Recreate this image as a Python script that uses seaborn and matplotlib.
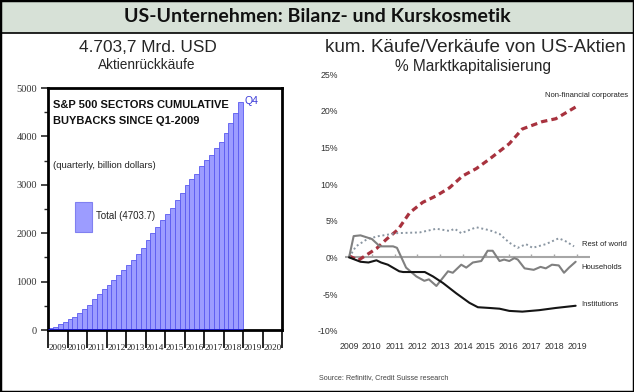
import matplotlib.pyplot as plt
import matplotlib.ticker as mticker
import numpy as np
import pandas as pd
import seaborn as sns
from matplotlib.lines import Line2D
from matplotlib.patches import Rectangle

# left panel: S&P 500 cumulative buybacks since Q1-2009, bn USD (quarterly)
years = list(range(2009, 2021))
buybacks = [34, 69, 124, 172, 227, 276, 345, 427, 517, 634,
            737, 840, 923, 1033, 1130, 1240, 1337, 1447, 1571, 1702,
            1860, 1998, 2130, 2265, 2397, 2527, 2686, 2824, 2996, 3113,
            3216, 3388, 3512, 3616, 3754, 3891, 4077, 4284, 4477, 4703.7]

# right panel: cumulative purchases / sales of US equities, % of market cap
flow_years = list(range(2009, 2020))
nfc_x = [2009.0, 2009.4, 2010.2, 2010.65, 2011.15, 2011.66, 2012.23, 2012.83, 2013.41,
         2013.98, 2014.58, 2015.16, 2016.03, 2016.6, 2017.47, 2018.07, 2018.94]
nfc_y = [0.2, -0.4, 1.2, 2.5, 3.8, 6.1, 7.5, 8.4, 9.5, 11.1, 12.1, 13.4, 15.5, 17.5,
         18.5, 18.9, 20.5]
row_x = [2009.0, 2009.3, 2009.8, 2010.3, 2011.1, 2012.1, 2012.83, 2013.41, 2013.63, 2013.92,
         2014.58, 2015.16, 2015.6, 2016.03, 2016.4, 2016.76, 2017.05, 2017.63, 2018.2,
         2018.5, 2018.87]
row_y = [0.0, 1.5, 2.5, 2.9, 3.3, 3.4, 3.9, 3.6, 3.9, 3.3, 4.1, 3.7, 3.2, 2.0, 1.3, 1.8,
         1.3, 1.8, 2.6, 2.2, 1.5]
hh_x = [2009.0, 2009.2, 2009.5, 2010.0, 2010.35, 2010.93, 2011.1, 2011.5, 2011.95, 2012.3,
        2012.5, 2012.83, 2013.34, 2013.55, 2013.92, 2014.14, 2014.43, 2014.8, 2015.08,
        2015.3, 2015.6, 2015.8, 2016.03, 2016.25, 2016.4, 2016.7, 2017.1, 2017.4, 2017.63,
        2017.9, 2018.2, 2018.43, 2018.65, 2018.94]
hh_y = [0.0, 2.9, 3.0, 2.5, 1.5, 1.5, 1.3, -1.4, -2.6, -3.2, -3.0, -3.9, -1.9, -2.1, -1.0,
        -1.4, -0.7, -0.5, 0.9, 0.9, -0.5, -0.3, -0.5, -0.1, -0.3, -1.5, -1.7, -1.3, -1.5,
        -1.0, -1.1, -2.1, -1.4, -0.6]
inst_x = [2009.0, 2009.5, 2009.85, 2010.2, 2010.4, 2010.7, 2011.2, 2011.37, 2011.8, 2012.32,
          2012.68, 2013.12, 2013.7, 2014.28, 2014.65, 2015.16, 2015.6, 2016.03, 2016.6,
          2017.34, 2018.07, 2018.94]
inst_y = [0.0, -0.6, -0.7, -0.4, -0.7, -1.0, -1.9, -2.0, -2.0, -2.0, -2.6, -3.5, -4.9, -6.2,
          -6.8, -6.9, -7.0, -7.3, -7.4, -7.2, -6.9, -6.6]

NARROW = ["Liberation Sans", "DejaVu Sans"]
SERIF = ["Liberation Serif", "DejaVu Serif"]
ARIAL = ["Liberation Sans", "DejaVu Sans"]

W, H = 634, 392


def _box(left, top, right, bottom):
    # pixel box -> figure fraction [l, b, w, h]
    return [left / W, 1 - bottom / H, (right - left) / W, (bottom - top) / H]


def _plot_buybacks(ax):
    quarters = [f"{y}Q{q}" for y in years[: len(buybacks) // 4] for q in range(1, 5)]
    df = pd.DataFrame({"quarter": quarters, "value": buybacks})
    sns.barplot(data=df, x="quarter", y="value", ax=ax, color="#9c9cff", saturation=1,
                width=1.0, edgecolor="#5a5af0", linewidth=0.6)
    ax.hlines(0, -0.5, len(buybacks) - 0.5, color="#2020e0", lw=2, zorder=5)

    ax.set_xlim(-0.5, len(years) * 4 - 0.5)
    ax.set_ylim(0, 5000)
    ax.set_xlabel("")
    ax.set_ylabel("")

    ax.set_xticks(np.arange(len(years) + 1) * 4 - 0.5)
    ax.set_xticklabels([])
    ax.set_xticks(np.arange(len(years)) * 4 + 1.5, minor=True)
    ax.set_xticklabels([str(y) for y in years], minor=True, family=SERIF, fontsize=6.6,
                       color="#222222")
    ax.tick_params(axis="x", which="major", length=13, width=1.2, color="black")
    ax.tick_params(axis="x", which="minor", length=0, pad=10)

    ax.yaxis.set_major_locator(mticker.MultipleLocator(1000))
    ax.yaxis.set_minor_locator(mticker.MultipleLocator(500))
    ax.tick_params(axis="y", which="major", length=5, width=1.2, labelsize=7.5,
                   labelcolor="#333333", pad=3)
    ax.tick_params(axis="y", which="minor", length=3, width=1.0)
    for lab in ax.get_yticklabels():
        lab.set_family(SERIF)

    for s in ax.spines.values():
        s.set_visible(True)
        s.set_linewidth(2)
        s.set_color("black")

    ax.text(0.022, 0.95, "S&P 500 SECTORS CUMULATIVE\nBUYBACKS SINCE Q1-2009",
            transform=ax.transAxes, va="top", ha="left", family=NARROW,
            fontweight="bold", fontsize=8.0, linespacing=1.8, color="#111111")
    ax.text(0.022, 0.68, "(quarterly, billion dollars)", transform=ax.transAxes,
            va="center", ha="left", family=NARROW, fontsize=6.8, color="#222222")

    ax.add_patch(Rectangle((0.115, 0.405), 0.072, 0.124, transform=ax.transAxes,
                           facecolor="#9c9cff", edgecolor="#8080f0", lw=0.8))
    ax.text(0.205, 0.472, f"Total ({buybacks[-1]})", transform=ax.transAxes,
            va="center", ha="left", family=NARROW, fontsize=7.0, color="#222222")

    ax.annotate("Q4", xy=(len(buybacks) - 1, buybacks[-1]), xytext=(3, 1),
                textcoords="offset points", va="center", ha="left",
                color="#3a3ad8", family=NARROW, fontsize=7.5)


def _plot_flows(ax):
    series = [
        (nfc_x, nfc_y, "#a8323e", (0, (2.0, 1.3)), 2.3),
        (row_x, row_y, "#8a96a2", (0, (1.0, 1.4)), 1.4),
        (hh_x, hh_y, "#808080", "-", 1.5),
        (inst_x, inst_y, "#151515", "-", 1.5),
    ]
    for xs, ys, col, ls, lw in series:
        sns.lineplot(x=xs, y=ys, ax=ax, color=col, linestyle=ls, linewidth=lw,
                     sort=False, errorbar=None, zorder=3)

    ax.axhline(0, color="#a6a6a6", lw=1.5, zorder=2)
    ax.vlines(flow_years, 0, 0.45, color="#a6a6a6", lw=1.0, zorder=2)

    ax.set_xlim(2008.82, 2019.57)
    ax.set_ylim(-10, 25)
    ax.set_xticks(flow_years)
    ax.set_yticks(np.arange(-10, 26, 5))
    ax.yaxis.set_major_formatter(mticker.FuncFormatter(lambda v, p: f"{v:.0f}%"))
    ax.tick_params(length=0, labelsize=6.3, labelcolor="#333333")
    ax.tick_params(axis="y", pad=5)
    ax.tick_params(axis="x", pad=8)
    for lab in ax.get_xticklabels() + ax.get_yticklabels():
        lab.set_family(NARROW)
    for s in ax.spines.values():
        s.set_visible(False)
    ax.set_xlabel("")
    ax.set_ylabel("")

    labels = [
        ("Non-financial corporates", 2017.6, 22.1),
        ("Rest of world", 2019.2, 1.8),
        ("Households", 2019.2, -1.4),
        ("Institutions", 2019.2, -6.4),
    ]
    for txt, x, y in labels:
        ax.text(x, y, txt, va="center", ha="left", family=NARROW, fontsize=5.5,
                color="#222222", clip_on=False)


def main():
    sns.set_theme(style="ticks")
    plt.rcParams["font.family"] = ARIAL

    fig = plt.figure(figsize=(W / 100, H / 100), dpi=100)
    fig.patch.set_facecolor("white")

    # header band
    fig.add_artist(Rectangle((0, 1 - 33 / H), 1, 33 / H, transform=fig.transFigure,
                             facecolor="#d7e1d7", edgecolor="none", zorder=0))
    fig.add_artist(Line2D([0, 1], [1 - 33 / H] * 2, transform=fig.transFigure,
                          color="black", lw=1.2))
    fig.add_artist(Rectangle((0, 0), 1, 1, transform=fig.transFigure, fill=False,
                             edgecolor="black", lw=2.5))
    fig.text(0.5, 1 - 17 / H, "US-Unternehmen: Bilanz- und Kurskosmetik", ha="center",
             va="center", fontsize=14, fontweight="bold", family=["Lato", "DejaVu Sans"],
             color="#111111")

    fig.text(148 / W, 1 - 47 / H, "4.703,7 Mrd. USD", ha="center", va="center", fontsize=12.4)
    fig.text(147 / W, 1 - 65 / H, "Aktienrückkäufe", ha="center", va="center", fontsize=9.8)
    fig.text(475 / W, 1 - 47 / H, "kum. Käufe/Verkäufe von US-Aktien", ha="center",
             va="center", fontsize=13.6)
    fig.text(473 / W, 1 - 66 / H, "% Marktkapitalisierung", ha="center", va="center",
             fontsize=11.2)

    ax1 = fig.add_axes(_box(48, 88, 282, 330))
    _plot_buybacks(ax1)

    ax2 = fig.add_axes(_box(345, 74, 590, 330.7))
    _plot_flows(ax2)

    fig.text(319 / W, 1 - 378 / H, "Source: Refinitiv, Credit Suisse research", ha="left",
             va="center", family=NARROW, fontsize=5.2, color="#444444")

    fig.savefig("out.png", dpi=100)
    plt.close(fig)


if __name__ == "__main__":
    main()
